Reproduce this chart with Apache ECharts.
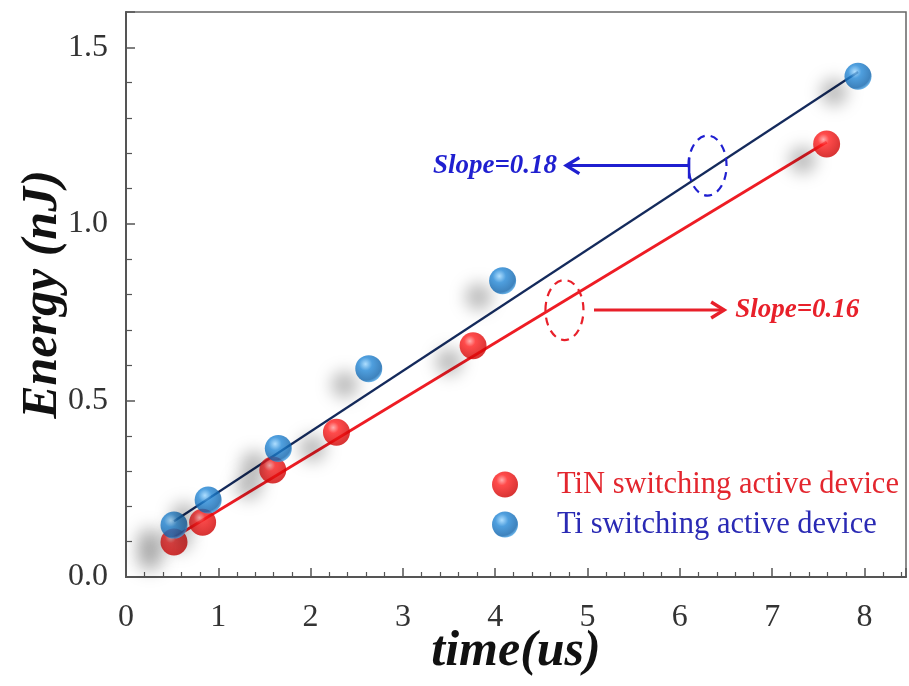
<!DOCTYPE html>
<html><head><meta charset="utf-8">
<script src="https://cdn.jsdelivr.net/npm/echarts@6/dist/echarts.min.js"></script>
<style>html,body{margin:0;padding:0;background:#fff}#c{width:909px;height:686px}</style>
</head><body><div id="c"></div>
<script>
// ---- data ----
const seriesNames = ['TiN switching active device', 'Ti switching active device'];
const tinTime   = [0.52, 0.83, 1.59, 2.28, 3.76, 7.59];
const tinEnergy = [0.099, 0.155, 0.303, 0.410, 0.655, 1.226];
const tiTime    = [0.52, 0.89, 1.65, 2.63, 4.08, 7.93];
const tiEnergy  = [0.147, 0.218, 0.364, 0.590, 0.839, 1.418];
// linear fit lines (end points)
const tinFitX = [0.52, 7.59];
const tinFitY = [0.112, 1.232];
const tiFitX  = [0.52, 7.93];
const tiFitY  = [0.158, 1.430];
const slopeLabels = ['Slope=0.18', 'Slope=0.16'];
const xTicks = [0,1,2,3,4,5,6,7,8];
const yTicks = ['0.0','0.5','1.0','1.5'];

const FONT = '"Liberation Serif", "Times New Roman", serif';
const pairs = (xs, ys) => xs.map((x, i) => [x, ys[i]]);

const redBall = {type:'radial', x:0.38, y:0.33, r:0.7, colorStops:[
  {offset:0, color:'#ff9a9a'},{offset:0.3, color:'#ff1e1e'},{offset:1, color:'#cc0000'}]};
const blueBall = {type:'radial', x:0.38, y:0.33, r:0.7, colorStops:[
  {offset:0, color:'#9ad6ff'},{offset:0.35, color:'#2387d6'},{offset:0.85, color:'#0f64ad'},{offset:1, color:'#4aa6e8'}]};
const shadow = {shadowColor:'rgba(0,0,0,0.33)', shadowBlur:16, shadowOffsetX:-24, shadowOffsetY:16};

const chart = echarts.init(document.getElementById('c'));
chart.setOption({
  animation:false,
  backgroundColor:'#fff',
  grid:{left:126, right:3, top:12, bottom:109, containLabel:false, outerBoundsMode:'none',
    show:true, borderColor:'#666', borderWidth:1.5},
  xAxis:{
    type:'value', min:0, max:8.45, interval:1,
    axisLine:{lineStyle:{color:'#555', width:2}},
    axisTick:{inside:true, length:9, lineStyle:{color:'#555', width:1.5}},
    minorTick:{show:true, splitNumber:5, length:5, lineStyle:{color:'#555', width:1.2}},
    splitLine:{show:false},
    axisLabel:{fontFamily:FONT, fontSize:32, color:'#333', margin:25,
      formatter:(v)=> xTicks.includes(v) ? String(v) : ''},
    name:'time(us)', nameLocation:'middle', nameGap:50, nameMoveOverlap:false,
    nameTextStyle:{fontFamily:FONT, fontSize:50, fontWeight:'bold', fontStyle:'italic', color:'#111'}
  },
  yAxis:{
    type:'value', min:0, max:1.6, interval:0.5,
    axisLine:{show:true, lineStyle:{color:'#555', width:2}},
    axisTick:{show:true, inside:true, length:9, lineStyle:{color:'#555', width:1.5}},
    minorTick:{show:true, splitNumber:5, length:6, lineStyle:{color:'#555', width:1.2}},
    splitLine:{show:false},
    axisLabel:{fontFamily:FONT, fontSize:32, color:'#333', margin:18,
      formatter:(v)=> { const s = v.toFixed(1); return yTicks.includes(s) ? s : ''; }},
    name:'Energy (nJ)', nameLocation:'middle', nameGap:58, nameMoveOverlap:false,
    nameTextStyle:{fontFamily:FONT, fontSize:50, fontWeight:'bold', fontStyle:'italic', color:'#111'}
  },
  legend:{
    orient:'vertical', left:492, top:469, itemGap:9,
    itemWidth:26, itemHeight:26, icon:'circle', padding:0,
    data:[
      {name:seriesNames[0], textStyle:{color:'#e3262e'}},
      {name:seriesNames[1], textStyle:{color:'#2a2ab4'}}
    ],
    formatter:(n)=> '{p|}' + n,
    textStyle:{fontFamily:FONT, fontSize:30.5, rich:{p:{width:34}}}
  },
  series:[
    {type:'line', data:pairs(tiFitX, tiFitY), showSymbol:false, symbol:'none', z:2,
      lineStyle:{color:'#142a5c', width:2.2}, silent:true},
    {type:'line', data:pairs(tinFitX, tinFitY), showSymbol:false, symbol:'none', z:2,
      lineStyle:{color:'#ee1c24', width:2.8}, silent:true},
    {name:seriesNames[0], type:'scatter', data:pairs(tinTime, tinEnergy), symbolSize:27, z:5,
      itemStyle:Object.assign({color:redBall}, shadow)},
    {name:seriesNames[1], type:'scatter', data:pairs(tiTime, tiEnergy), symbolSize:27, z:6,
      itemStyle:Object.assign({color:blueBall}, shadow)}
  ]
});

// ---- annotations placed in data coordinates ----
const P = (x, y) => chart.convertToPixel({gridIndex:0}, [x, y]);
const blueAnn = {ellipse:[6.30, 1.165], arrowFrom:6.10, arrowTo:4.77, y:1.165, text:4.67};
const redAnn  = {ellipse:[4.75, 0.756], arrowFrom:5.07, arrowTo:6.48, y:0.756, text:6.60};

function annotation(a, color, label, dir) {
  const c = P(a.ellipse[0], a.ellipse[1]);
  const s = P(a.arrowFrom, a.y), e = P(a.arrowTo, a.y), t = P(a.text, a.y);
  const els = [
    {type:'ellipse', shape:{cx:c[0], cy:c[1], rx:19, ry:30}, z:10,
      style:{fill:'none', stroke:color, lineWidth:2.2, lineDash:[8,6]}},
    {type:'line', shape:{x1:s[0], y1:s[1], x2:e[0], y2:e[1]}, z:10,
      style:{stroke:color, lineWidth:3}},
    {type:'polyline', shape:{points:[[e[0]-dir*13, e[1]-8],[e[0], e[1]],[e[0]-dir*13, e[1]+8]]}, z:10,
      style:{fill:'none', stroke:color, lineWidth:3.4}},
    {type:'text', x:t[0], y:t[1], z:10,
      style:{text:label, fill:color, font:'italic bold 27px ' + FONT,
        align: dir < 0 ? 'right' : 'left', verticalAlign:'middle'}}
  ];
  if (dir < 0) els.push({type:'line', shape:{x1:s[0], y1:s[1]-8, x2:s[0], y2:s[1]+13}, z:10,
      style:{stroke:color, lineWidth:2.5}});
  return els;
}
chart.setOption({graphic:{elements:[
  ...annotation(blueAnn, '#1f1fd0', slopeLabels[0], -1),
  ...annotation(redAnn, '#e8202a', slopeLabels[1], 1)
]}});
</script></body></html>
